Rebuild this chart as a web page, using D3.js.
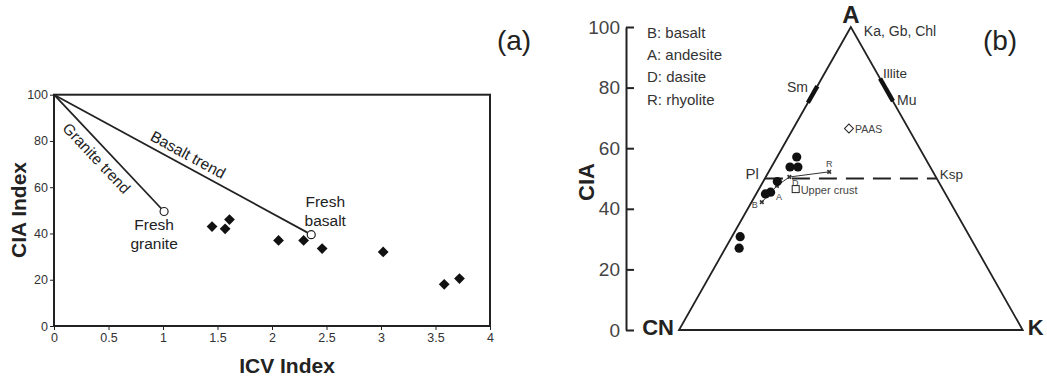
<!DOCTYPE html>
<html>
<head>
<meta charset="utf-8">
<script src="https://cdn.jsdelivr.net/npm/d3@7"></script>
<style>
  body { margin: 0; background: #fff; }
  svg { display: block; font-family: "Liberation Sans", Arial, sans-serif; }
</style>
</head>
<body>
<svg id="chart" width="1047" height="379"></svg>
<script>
'use strict';

// ---- panel (a): ICV vs CIA ----
const icvTicks = [0, 0.5, 1, 1.5, 2, 2.5, 3, 3.5, 4];
const ciaTicks = [0, 20, 40, 60, 80, 100];
const samplesIcv = [1.45, 1.57, 1.61, 2.06, 2.29, 2.46, 3.02, 3.58, 3.72];
const samplesCia = [43, 42, 46, 37, 37, 33.5, 32, 18, 20.5];
const freshRocks = [
    {name: ["Fresh", "granite"], icv: 1.01, cia: 49.5},
    {name: ["Fresh", "basalt"], icv: 2.36, cia: 39.5}
];
const trendOrigin = {icv: 0, cia: 100};

// ---- panel (b): A-CN-K ternary, values as [A, CN, K] % ----
const ternSamples = [
    [57.1, 37.2, 5.7], [53.8, 40.8, 5.4], [53.8, 38.5, 7.7], [49.0, 46.9, 4.1],
    [45.5, 50.6, 3.9], [44.9, 52.4, 2.7], [30.8, 66.8, 2.4], [27.0, 69.0, 4.0]
];
const rockNames = ["B", "A", "D", "R"];
const rockTern = [[42.2, 54.8, 3.0], [47.6, 47.7, 4.7], [50.5, 42.65, 6.85], [52.2, 30.2, 17.6]];
const legendLines = ["B: basalt", "A: andesite", "D: dasite", "R: rhyolite"];
const paas = [66.5, 17.3, 16.2];
const upperCrust = [46.5, 42.8, 10.7];
const smRange = [75, 80.5];      // A on the A-CN edge
const illiteRange = [75.5, 83];  // A on the A-K edge
const feldsparLine = 50;

const svg = d3.select("#chart");

// ===== panel (a) =====
const xA = d3.scaleLinear().domain([0, 4]).range([54, 490]);
const yA = d3.scaleLinear().domain([0, 100]).range([326, 94.7]);

const gA = svg.append("g");

gA.append("g")
    .attr("transform", "translate(0,326)")
    .call(d3.axisBottom(xA).tickValues(icvTicks).tickSize(4).tickFormat(d => d))
    .call(g => g.select(".domain").remove())
    .call(g => g.selectAll("text").attr("font-size", 12.5).attr("fill", "#333").attr("font-family", "Liberation Sans, Arial"))
    .call(g => g.selectAll("line").attr("stroke", "#222"));

gA.append("g")
    .attr("transform", "translate(54,0)")
    .call(d3.axisLeft(yA).tickValues(ciaTicks).tickSize(4).tickPadding(2))
    .call(g => g.select(".domain").remove())
    .call(g => g.selectAll("text").attr("font-size", 12.5).attr("fill", "#333").attr("font-family", "Liberation Sans, Arial"))
    .call(g => g.selectAll("line").attr("stroke", "#222"));

gA.append("rect")
    .attr("x", xA(0)).attr("y", yA(100))
    .attr("width", xA(4) - xA(0)).attr("height", yA(0) - yA(100))
    .attr("fill", "none").attr("stroke", "#222").attr("stroke-width", 2);

// trend lines
gA.selectAll(".trend")
    .data(freshRocks)
    .join("line")
    .attr("x1", xA(trendOrigin.icv)).attr("y1", yA(trendOrigin.cia))
    .attr("x2", d => xA(d.icv)).attr("y2", d => yA(d.cia))
    .attr("stroke", "#222").attr("stroke-width", 1.8);

// trend labels, rotated along the lines
function trendLabel(rock, text, t, offset) {
    const x0 = xA(trendOrigin.icv), y0 = yA(trendOrigin.cia);
    const x1 = xA(rock.icv), y1 = yA(rock.cia);
    const ang = Math.atan2(y1 - y0, x1 - x0);
    const px = x0 + (x1 - x0) * t, py = y0 + (y1 - y0) * t;
    gA.append("text")
        .attr("transform", `translate(${px},${py}) rotate(${ang * 180 / Math.PI}) translate(0,${offset})`)
        .attr("text-anchor", "middle")
        .attr("font-size", 15.5).attr("fill", "#222")
        .text(text);
}
trendLabel(freshRocks[0], "Granite trend", 0.47, 18);
trendLabel(freshRocks[1], "Basalt trend", 0.5, -6);

gA.selectAll(".fresh")
    .data(freshRocks)
    .join("circle")
    .attr("cx", d => xA(d.icv)).attr("cy", d => yA(d.cia))
    .attr("r", 4).attr("fill", "#fff").attr("stroke", "#222").attr("stroke-width", 1.2);

gA.append("text")
    .attr("x", xA(freshRocks[0].icv) - 10).attr("y", yA(freshRocks[0].cia) + 18)
    .attr("text-anchor", "middle").attr("font-size", 15.5).attr("fill", "#222")
    .selectAll("tspan").data(freshRocks[0].name).join("tspan")
    .attr("x", xA(freshRocks[0].icv) - 10).attr("dy", (d, i) => i ? 19 : 0).text(d => d);

gA.append("text")
    .attr("x", xA(freshRocks[1].icv) + 14).attr("y", yA(freshRocks[1].cia) - 28)
    .attr("text-anchor", "middle").attr("font-size", 15.5).attr("fill", "#222")
    .selectAll("tspan").data(freshRocks[1].name).join("tspan")
    .attr("x", xA(freshRocks[1].icv) + 14).attr("dy", (d, i) => i ? 19 : 0).text(d => d);

gA.selectAll(".sample")
    .data(samplesIcv)
    .join("path")
    .attr("transform", (d, i) => `translate(${xA(d)},${yA(samplesCia[i])}) rotate(45)`)
    .attr("d", d3.symbol(d3.symbolSquare, 58))
    .attr("fill", "#111");

gA.append("text")
    .attr("x", 18).attr("y", 210)
    .attr("transform", "rotate(-90,18,210)")
    .attr("text-anchor", "middle").attr("dominant-baseline", "central")
    .attr("font-size", 21).attr("font-weight", "bold").attr("fill", "#222")
    .text("CIA Index");

gA.append("text")
    .attr("x", 287).attr("y", 373)
    .attr("text-anchor", "middle")
    .attr("font-size", 21).attr("font-weight", "bold").attr("fill", "#222")
    .text("ICV Index");

gA.append("text")
    .attr("x", 514).attr("y", 50)
    .attr("text-anchor", "middle")
    .attr("font-size", 28).attr("fill", "#222")
    .text("(a)");

// ===== panel (b) =====
const yB = d3.scaleLinear().domain([0, 100]).range([330, 27]);
const xB = d3.scaleLinear().domain([0, 100]).range([679, 1022.7]);
const proj = t => [xB(t[2] + t[0] / 2), yB(t[0])];

const gB = svg.append("g");

gB.append("g")
    .attr("transform", "translate(626,0)")
    .call(d3.axisLeft(yB).tickValues(ciaTicks).tickSize(-8).tickSizeOuter(0).tickPadding(6))
    .call(g => g.select(".domain").attr("stroke", "#222").attr("stroke-width", 2))
    .call(g => g.selectAll("line").attr("stroke", "#222").attr("stroke-width", 2))
    .call(g => g.selectAll("text").attr("font-size", 19).attr("fill", "#444").attr("font-family", "Liberation Sans, Arial"));

gB.append("text")
    .attr("x", 586).attr("y", 182)
    .attr("transform", "rotate(-90,586,182)")
    .attr("text-anchor", "middle").attr("dominant-baseline", "central")
    .attr("font-size", 22).attr("font-weight", "bold").attr("fill", "#222")
    .text("CIA");

const corners = [[100, 0, 0], [0, 100, 0], [0, 0, 100]].map(proj);
gB.append("path")
    .attr("d", d3.line()(corners) + "Z")
    .attr("fill", "none").attr("stroke", "#222").attr("stroke-width", 1.8);

// mineral segments on the edges
gB.append("line")
    .attr("x1", proj([smRange[0], 100 - smRange[0], 0])[0]).attr("y1", proj([smRange[0], 100 - smRange[0], 0])[1])
    .attr("x2", proj([smRange[1], 100 - smRange[1], 0])[0]).attr("y2", proj([smRange[1], 100 - smRange[1], 0])[1])
    .attr("stroke", "#111").attr("stroke-width", 4.5);
gB.append("line")
    .attr("x1", proj([illiteRange[0], 0, 100 - illiteRange[0]])[0]).attr("y1", proj([illiteRange[0], 0, 100 - illiteRange[0]])[1])
    .attr("x2", proj([illiteRange[1], 0, 100 - illiteRange[1]])[0]).attr("y2", proj([illiteRange[1], 0, 100 - illiteRange[1]])[1])
    .attr("stroke", "#111").attr("stroke-width", 4.5);

// feldspar join
const pl = proj([feldsparLine, 100 - feldsparLine, 0]);
const ksp = proj([feldsparLine, 0, 100 - feldsparLine]);
gB.append("line")
    .attr("x1", pl[0]).attr("y1", pl[1]).attr("x2", ksp[0]).attr("y2", ksp[1])
    .attr("stroke", "#222").attr("stroke-width", 2).attr("stroke-dasharray", "18,9");

// igneous rock trend
gB.append("path")
    .attr("d", d3.line()(rockTern.map(proj)))
    .attr("fill", "none").attr("stroke", "#333").attr("stroke-width", 1);
gB.selectAll(".rockx")
    .data(rockTern)
    .join("path")
    .attr("transform", d => `translate(${proj(d)}) rotate(45)`)
    .attr("d", d3.symbol(d3.symbolCross, 14))
    .attr("fill", "#333");
const rockLabelOff = [[-7, 3], [2, 11], [6, 6], [0, -8]];
gB.selectAll(".rockl")
    .data(rockTern)
    .join("text")
    .attr("x", (d, i) => proj(d)[0] + rockLabelOff[i][0])
    .attr("y", (d, i) => proj(d)[1] + rockLabelOff[i][1])
    .attr("text-anchor", "middle").attr("dominant-baseline", "central")
    .attr("font-size", 9).attr("fill", "#444")
    .text((d, i) => rockNames[i]);

gB.selectAll(".samp")
    .data(ternSamples)
    .join("circle")
    .attr("cx", d => proj(d)[0]).attr("cy", d => proj(d)[1])
    .attr("r", 4.6).attr("fill", "#111");

// PAAS and upper crust
const pp = proj(paas);
gB.append("path")
    .attr("transform", `translate(${pp}) rotate(45)`)
    .attr("d", d3.symbol(d3.symbolSquare, 40))
    .attr("fill", "#fff").attr("stroke", "#222").attr("stroke-width", 1);
gB.append("text").attr("x", pp[0] + 6).attr("y", pp[1]).attr("dominant-baseline", "central")
    .attr("font-size", 10.5).attr("fill", "#444").text("PAAS");
const uc = proj(upperCrust);
gB.append("rect")
    .attr("x", uc[0] - 3.5).attr("y", uc[1] - 3.5).attr("width", 7).attr("height", 7)
    .attr("fill", "#fff").attr("stroke", "#222").attr("stroke-width", 1);
gB.append("text").attr("x", uc[0] + 5).attr("y", uc[1] + 1).attr("dominant-baseline", "central")
    .attr("font-size", 11).attr("fill", "#444").text("Upper crust");

// corner and mineral labels
const cornerText = (x, y, t, size, weight, anchor, fill) =>
    gB.append("text").attr("x", x).attr("y", y)
        .attr("text-anchor", anchor || "start").attr("dominant-baseline", "central")
        .attr("font-size", size).attr("font-weight", weight || "normal").attr("fill", fill || "#333")
        .text(t);

cornerText(corners[0][0], 14, "A", 24, "bold", "middle", "#222");
cornerText(corners[1][0] - 5, corners[1][1] - 3, "CN", 22, "bold", "end", "#222");
cornerText(corners[2][0] + 5, corners[2][1] - 3, "K", 22, "bold", "start", "#222");
cornerText(corners[0][0] + 13, 31, "Ka, Gb, Chl", 14);
cornerText(883, 73, "Illite", 13.5);
cornerText(897, 100, "Mu", 14);
cornerText(808, 87, "Sm", 14, "normal", "end");
cornerText(pl[0] - 6, pl[1] - 5, "Pl", 15, "normal", "end");
cornerText(ksp[0] + 3, ksp[1] - 4, "Ksp", 13.5);

gB.selectAll(".leg")
    .data(legendLines)
    .join("text")
    .attr("x", 647).attr("y", (d, i) => 32 + i * 22.4)
    .attr("dominant-baseline", "central")
    .attr("font-size", 15).attr("fill", "#333")
    .text(d => d);

gB.append("text")
    .attr("x", 1000).attr("y", 50)
    .attr("text-anchor", "middle")
    .attr("font-size", 28).attr("fill", "#222")
    .text("(b)");
</script>
</body>
</html>
